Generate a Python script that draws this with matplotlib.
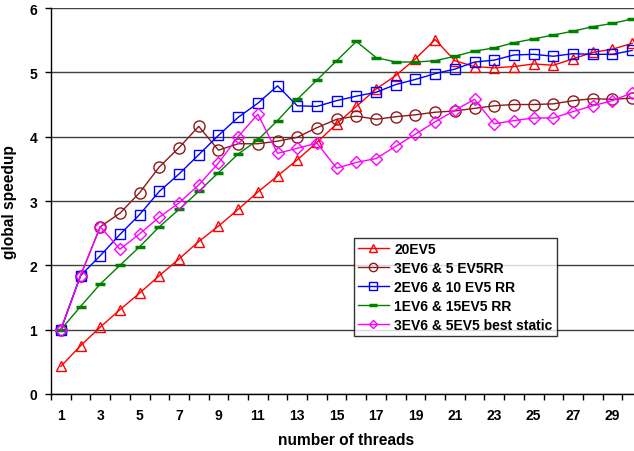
import matplotlib
matplotlib.use("Agg")
import matplotlib.pyplot as plt
import numpy as np

plt.rcParams['font.family'] = ['Liberation Sans', 'DejaVu Sans']
plt.rcParams['font.weight'] = 'bold'

threads = list(range(1, 31))

ev5_20 = [0.43, 0.75, 1.04, 1.31, 1.57, 1.84, 2.10, 2.37, 2.61, 2.87,
          3.14, 3.39, 3.64, 3.91, 4.20, 4.47, 4.74, 4.95, 5.21, 5.51,
          5.18, 5.09, 5.07, 5.09, 5.13, 5.11, 5.21, 5.31, 5.36, 5.45]
ev6_3_ev5_5_rr = [1.00, 1.84, 2.60, 2.81, 3.13, 3.53, 3.83, 4.16, 3.79, 3.89,
                  3.89, 3.93, 3.99, 4.14, 4.27, 4.32, 4.27, 4.31, 4.34, 4.38,
                  4.40, 4.44, 4.48, 4.50, 4.50, 4.51, 4.56, 4.59, 4.58, 4.60]
ev6_2_ev5_10_rr = [1.00, 1.84, 2.15, 2.48, 2.79, 3.15, 3.42, 3.72, 4.02, 4.30,
                   4.52, 4.79, 4.48, 4.47, 4.56, 4.63, 4.69, 4.81, 4.89, 4.98,
                   5.05, 5.16, 5.19, 5.27, 5.28, 5.25, 5.29, 5.28, 5.28, 5.34]
ev6_1_ev5_15_rr = [1.00, 1.36, 1.71, 2.00, 2.29, 2.60, 2.87, 3.15, 3.44, 3.73,
                   3.95, 4.25, 4.58, 4.88, 5.18, 5.48, 5.23, 5.16, 5.16, 5.18,
                   5.25, 5.33, 5.38, 5.46, 5.52, 5.58, 5.64, 5.71, 5.76, 5.83]
ev6_3_ev5_5_static = [1.00, 1.84, 2.60, 2.25, 2.49, 2.75, 2.97, 3.25, 3.59, 4.00,
                      4.35, 3.74, 3.82, 3.90, 3.51, 3.60, 3.66, 3.85, 4.04, 4.23,
                      4.41, 4.58, 4.20, 4.25, 4.29, 4.29, 4.39, 4.48, 4.56, 4.68]

labels = ["20EV5", "3EV6 & 5 EV5RR", "2EV6 & 10 EV5 RR",
          "1EV6 & 15EV5 RR", "3EV6 & 5EV5 best static"]

W, H = 634, 452
fig = plt.figure(figsize=(W / 100, H / 100), dpi=100)
ax = fig.add_axes([51 / W, (H - 395) / H, 591 / W, 386 / H])

ax.plot(threads, ev5_20, color='#FF0000', lw=1.0, marker='^', ms=7.5,
        mfc='none', mec='#FF0000', mew=1.0, label=labels[0], zorder=3)
ax.plot(threads, ev6_3_ev5_5_rr, color='#8B1A1A', lw=1.0, marker='o', ms=8,
        mfc='none', mec='#8B1A1A', mew=1.0, label=labels[1], zorder=3)
ax.plot(threads, ev6_2_ev5_10_rr, color='#0000FF', lw=1.0, marker='s', ms=7,
        mfc='none', mec='#0000FF', mew=1.0, label=labels[2], zorder=3)
ax.plot(threads, ev6_1_ev5_15_rr, color='#008000', lw=1.0, marker='_', ms=7,
        mec='#008000', mew=2.5, label=labels[3], zorder=3)
ax.plot(threads, ev6_3_ev5_5_static, color='#FF00FF', lw=1.0, marker='D', ms=6,
        mfc='none', mec='#FF00FF', mew=1.0, label=labels[4], zorder=3)

ax.set_xlim(0.5, 30.5)
ax.set_ylim(0, 6)

# category boundaries carry the tick marks, odd categories carry the labels
ax.set_xticks(np.arange(0.5, 31, 1.0))
ax.set_xticklabels([])
ax.set_xticks(threads[::2], minor=True)
ax.set_xticklabels([str(t) for t in threads[::2]], minor=True,
                   fontsize=10, fontweight='bold')
ax.tick_params(axis='x', which='major', direction='out', length=4,
               width=1, color='black')
ax.tick_params(axis='x', which='minor', length=0, pad=10)

ax.set_yticks(range(0, 7))
ax.set_yticklabels([str(v) for v in range(0, 7)], fontsize=10,
                   fontweight='bold')
ax.tick_params(axis='y', direction='out', length=4, width=1, color='black',
               pad=6)

ax.yaxis.grid(True, color='#404040', lw=1.0)
ax.set_axisbelow(True)

for side in ('top', 'right'):
    ax.spines[side].set_visible(False)
for side in ('left', 'bottom'):
    ax.spines[side].set_color('black')
    ax.spines[side].set_linewidth(1.0)

ax.set_xlabel("number of threads", fontsize=11.2, fontweight='bold',
              labelpad=7)
ax.set_ylabel("global speedup", fontsize=11.2, fontweight='bold',
              labelpad=9)

leg = ax.legend(loc='upper left', bbox_to_anchor=((354 - 51) / 591, (395 - 239) / 386),
                frameon=True, fancybox=False, edgecolor='black',
                prop={'size': 10, 'weight': 'bold'}, borderpad=0.3,
                labelspacing=0.35, handlelength=2.2, handletextpad=0.4,
                borderaxespad=0, markerscale=0.75)
leg.get_frame().set_linewidth(1.0)

fig.savefig("out.png", dpi=100, facecolor='white')
